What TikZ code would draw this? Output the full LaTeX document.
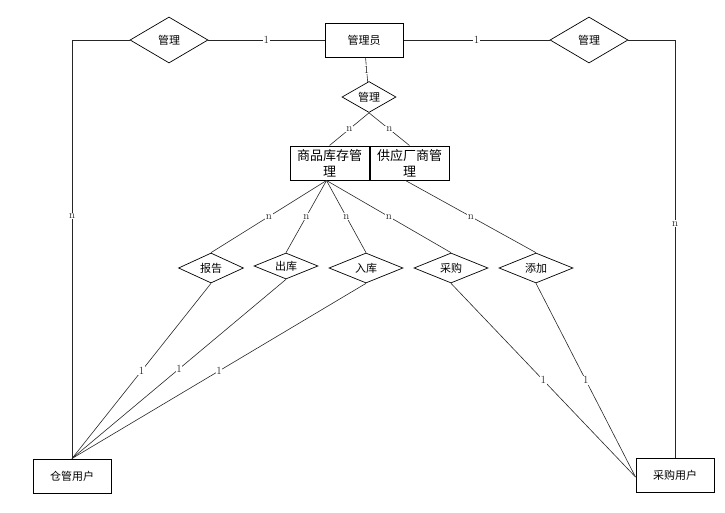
\documentclass[tikz,border=0pt]{standalone}
\usepackage{fontspec}
\newfontfamily\cjk{Noto Sans CJK SC}
\usetikzlibrary{shapes.geometric}

\begin{document}
\begin{tikzpicture}[x=1pt,y=-1pt,
  ent/.style={draw,line width=1pt,minimum width=78pt,minimum height=34pt,inner sep=1pt,
    font=\cjk\fontsize{11}{13}\selectfont},
  rel/.style={draw,diamond,aspect=2,inner sep=0pt,line width=.7pt,
    font=\cjk\fontsize{11}{13}\selectfont},
  card/.style={fill=white,inner sep=.8pt,font=\fontsize{11}{11}\selectfont}]
\useasboundingbox (0,0) rectangle (725,512);
% entities
\node[ent] (admin) at (364,40) {管理员};
\node[ent,minimum width=79pt,align=center,font=\cjk\fontsize{13}{16}\selectfont] (goods) at (329.5,163) {商品库存管\\理};
\node[ent,minimum width=79pt,align=center,font=\cjk\fontsize{13}{16}\selectfont] (supp) at (409.5,163) {供应厂商管\\理};
\node[ent] (wh) at (72,476) {仓管用户};
\node[ent] (pu) at (675,475) {采购用户};
% relations
\node[rel,minimum width=78pt,minimum height=46pt] (mgl) at (169,40) {管理};
\node[rel,minimum width=78pt,minimum height=46pt] (mgr) at (589,40) {管理};
\node[rel,minimum width=54pt,minimum height=31pt] (mgc) at (369,97) {管理};
\node[rel,minimum width=65pt,minimum height=30pt] (bg) at (211,268) {报告};
\node[rel,minimum width=64pt,minimum height=26pt] (out) at (286,266) {出库};
\node[rel,minimum width=74pt,minimum height=30pt] (in) at (366,268) {入库};
\node[rel,minimum width=74pt,minimum height=30pt] (buy) at (451,268) {采购};
\node[rel,minimum width=74pt,minimum height=30pt] (add) at (536,268) {添加};
\coordinate (gs) at ([xshift=-3pt]goods.south);
\coordinate (ss) at ([xshift=-4pt]supp.south);

\begin{scope}[line width=.6pt,black!85]
\draw (mgl) -- node[card]{1} (admin);
\draw (admin) -- node[card]{1} (mgr);
\draw (admin) -- node[card]{1} (mgc);
\draw (mgc.south) -- node[card]{n} (goods.north);
\draw (mgc.south) -- node[card]{n} (supp.north);
\draw (gs) -- node[card]{n} (bg.north);
\draw (gs) -- node[card]{n} (out.north);
\draw (gs) -- node[card]{n} (in.north);
\draw (gs) -- node[card]{n} (buy.north);
\draw (ss) -- node[card]{n} (add.north);
\draw (bg.south) -- node[card]{1} (wh.north);
\draw (out.south) -- node[card]{1} (wh.north);
\draw (in.south) -- node[card]{1} (wh.north);
\draw (buy.south) -- node[card]{1} ([yshift=-2pt]pu.west);
\draw (add.south) -- node[card]{1} ([yshift=-2pt]pu.west);
\draw (mgl.west) -| node[card,pos=.71]{n} (wh.north);
\draw (mgr.east) -| node[card,pos=.72]{n} (pu.north);
\end{scope}
\end{tikzpicture}
\end{document}
